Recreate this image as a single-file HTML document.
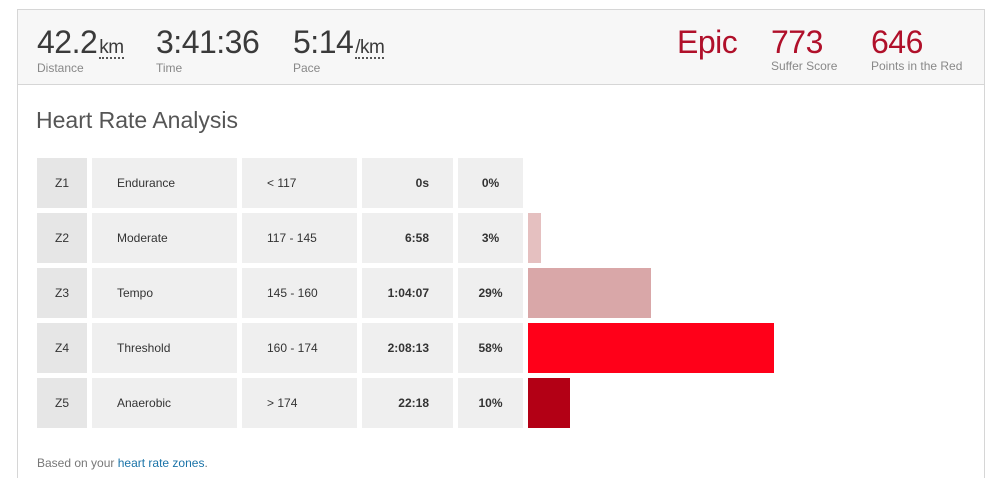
<!DOCTYPE html>
<html><head><meta charset="utf-8">
<style>
html,body{margin:0;width:1002px;height:478px;overflow:hidden}
body{background:#fff;font-family:"Liberation Sans",Arial,sans-serif;position:relative}
.box{position:absolute;left:17px;top:9px;width:966px;height:468px;border:1px solid #d6d6d6;border-bottom:none}
.hdr{position:absolute;left:0;top:0;width:966px;height:74px;background:#f7f7f7;border-bottom:1px solid #d6d6d6}
.stat{position:absolute;top:14px}
.val{font-size:32px;color:#3a3a3a;letter-spacing:-0.5px;line-height:36px;height:36px;white-space:nowrap}
.unit{font-size:19px;border-bottom:2px dotted #555;margin-left:2px;line-height:18px;display:inline-block}
.lab{position:absolute;top:37px;font-size:12px;color:#888;white-space:nowrap}
.red .val{color:#b0102a}
.red .lab{top:35px}
.ttl{position:absolute;left:36px;top:107px;font-size:23px;color:#555}
.cell{position:absolute;background:#efefef;font-size:12px;color:#333;line-height:50px;height:50px}
.z{background:#e6e6e6;text-align:center}
.b{font-weight:bold}
.foot{position:absolute;left:37px;top:456px;font-size:12px;color:#777}
.foot a{color:#1a73a8;text-decoration:none}
</style></head><body>
<div class="box">
 <div class="hdr">
  <div class="stat" style="left:19px"><div class="val">42.2<span class="unit">km</span></div><div class="lab">Distance</div></div>
  <div class="stat" style="left:138px"><div class="val">3:41:36</div><div class="lab">Time</div></div>
  <div class="stat" style="left:275px"><div class="val">5:14<span class="unit">/km</span></div><div class="lab">Pace</div></div>
  <div class="stat red" style="left:659px"><div class="val">Epic</div></div>
  <div class="stat red" style="left:753px"><div class="val">773</div><div class="lab">Suffer Score</div></div>
  <div class="stat red" style="left:853px"><div class="val">646</div><div class="lab">Points in the Red</div></div>
 </div>
</div>
<div class="ttl">Heart Rate Analysis</div>
<div id="rows"></div>
<div class="foot">Based on your <a href="#">heart rate zones</a>.</div>
<script>
const zones=["Z1","Z2","Z3","Z4","Z5"];
const zoneNames=["Endurance","Moderate","Tempo","Threshold","Anaerobic"];
const ranges=["< 117","117 - 145","145 - 160","160 - 174","> 174"];
const times=["0s","6:58","1:04:07","2:08:13","22:18"];
const percents=[0,3,29,58,10];
const barColors=["#f0d0d0","#e5c0c0","#d9a7a8","#ff0019","#b30015"];
const root=document.getElementById('rows');
const x=p=>p*246/58;
function cell(l,t,w,txt,cls,pad,align){
 const d=document.createElement('div');
 d.className='cell '+cls;
 d.style.left=l+'px';d.style.top=t+'px';d.style.width=(w-(pad||0))+'px';
 if(pad){ if(align==='right')d.style.paddingRight=pad+'px';else d.style.paddingLeft=pad+'px';d.style.textAlign=align||'left';}
 d.textContent=txt;root.appendChild(d);return d;
}
zones.forEach((z,i)=>{
 const t=158+i*55;
 const a=cell(37,t,50,z,'z');
 
 
 const b=cell(92,t,145,zoneNames[i],'',25);
 
 
 const c=cell(242,t,115,ranges[i],'',25);
 
 
 const d=cell(362,t,91,times[i],'b',24,'right');
 
 
 const e=cell(458,t,65,percents[i]+'%','b',0);
 e.style.textAlign='center';
 
 
 const bar=document.createElement('div');
 bar.style.cssText='position:absolute;left:528px;top:'+t+'px;height:50px;width:'+x(percents[i])+'px;background:'+barColors[i];
 
 
 root.appendChild(bar);
});
</script>
</body></html>
